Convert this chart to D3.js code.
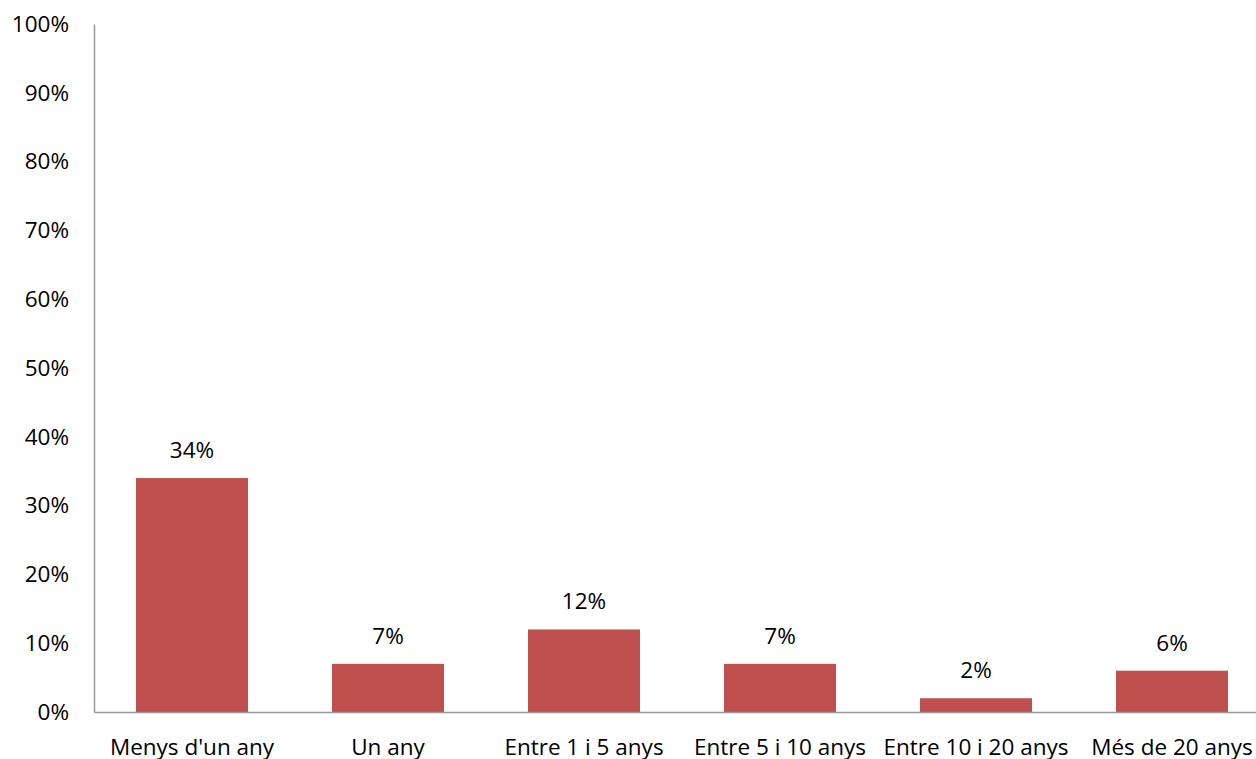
<!DOCTYPE html>
<html><head><meta charset="utf-8">
<script src="https://cdn.jsdelivr.net/npm/d3@7"></script>
<style>
html,body{margin:0;padding:0;background:#fff;overflow:hidden;}
svg text{font-family:"Open Sans",sans-serif;fill:#000;}
</style></head>
<body>
<svg id="c" width="1256" height="759"></svg>
<script>
const categories = ["Menys d'un any","Un any","Entre 1 i 5 anys","Entre 5 i 10 anys","Entre 10 i 20 anys","Més de 20 anys"];
const values = [0.34,0.07,0.12,0.07,0.02,0.06];
const yTicks = [0,0.1,0.2,0.3,0.4,0.5,0.6,0.7,0.8,0.9,1.0];

(function(){
const svg = d3.select("#c");
const mLeft = 94, mTop = 24, mBottom = 712, mRight = 1270;
const fs = 22.5;
const x = d3.scaleBand().domain(categories).range([mLeft, mRight]).padding(0);
const y = d3.scaleLinear().domain([0,1]).range([mBottom, mTop]);
const barFrac = 112/196;
const fmt = d3.format(".0%");

svg.append("g").selectAll("rect").data(values).join("rect")
  .attr("x",(d,i)=>x(categories[i]) + x.bandwidth()*(1-barFrac)/2)
  .attr("width",x.bandwidth()*barFrac)
  .attr("y",d=>y(d))
  .attr("height",d=>y(0)-y(d))
  .attr("fill","#C0504D");

const yAxis = d3.axisLeft(y).tickValues(yTicks).tickFormat(fmt).tickSize(0).tickPadding(25);
const gy = svg.append("g").attr("transform",`translate(${mLeft},0)`).call(yAxis);
gy.attr("font-family",null);
gy.select(".domain").attr("stroke","#999").attr("stroke-width",1.5);
gy.selectAll("text").attr("font-size",fs).attr("fill","#000");

const xAxis = d3.axisBottom(x).tickSize(0).tickPadding(27);
const gx = svg.append("g").attr("transform",`translate(0,${mBottom})`).call(xAxis);
gx.attr("font-family",null);
gx.select(".domain").attr("stroke","#999").attr("stroke-width",1.5);
gx.selectAll("text").attr("font-size",fs).attr("fill","#000");

svg.append("g").selectAll("text").data(values).join("text")
  .attr("x",(d,i)=>x(categories[i]) + x.bandwidth()/2)
  .attr("y",d=>y(d)-20)
  .attr("text-anchor","middle")
  .attr("font-size",fs)
  .text(d=>fmt(d));
})();
</script>
</body></html>
